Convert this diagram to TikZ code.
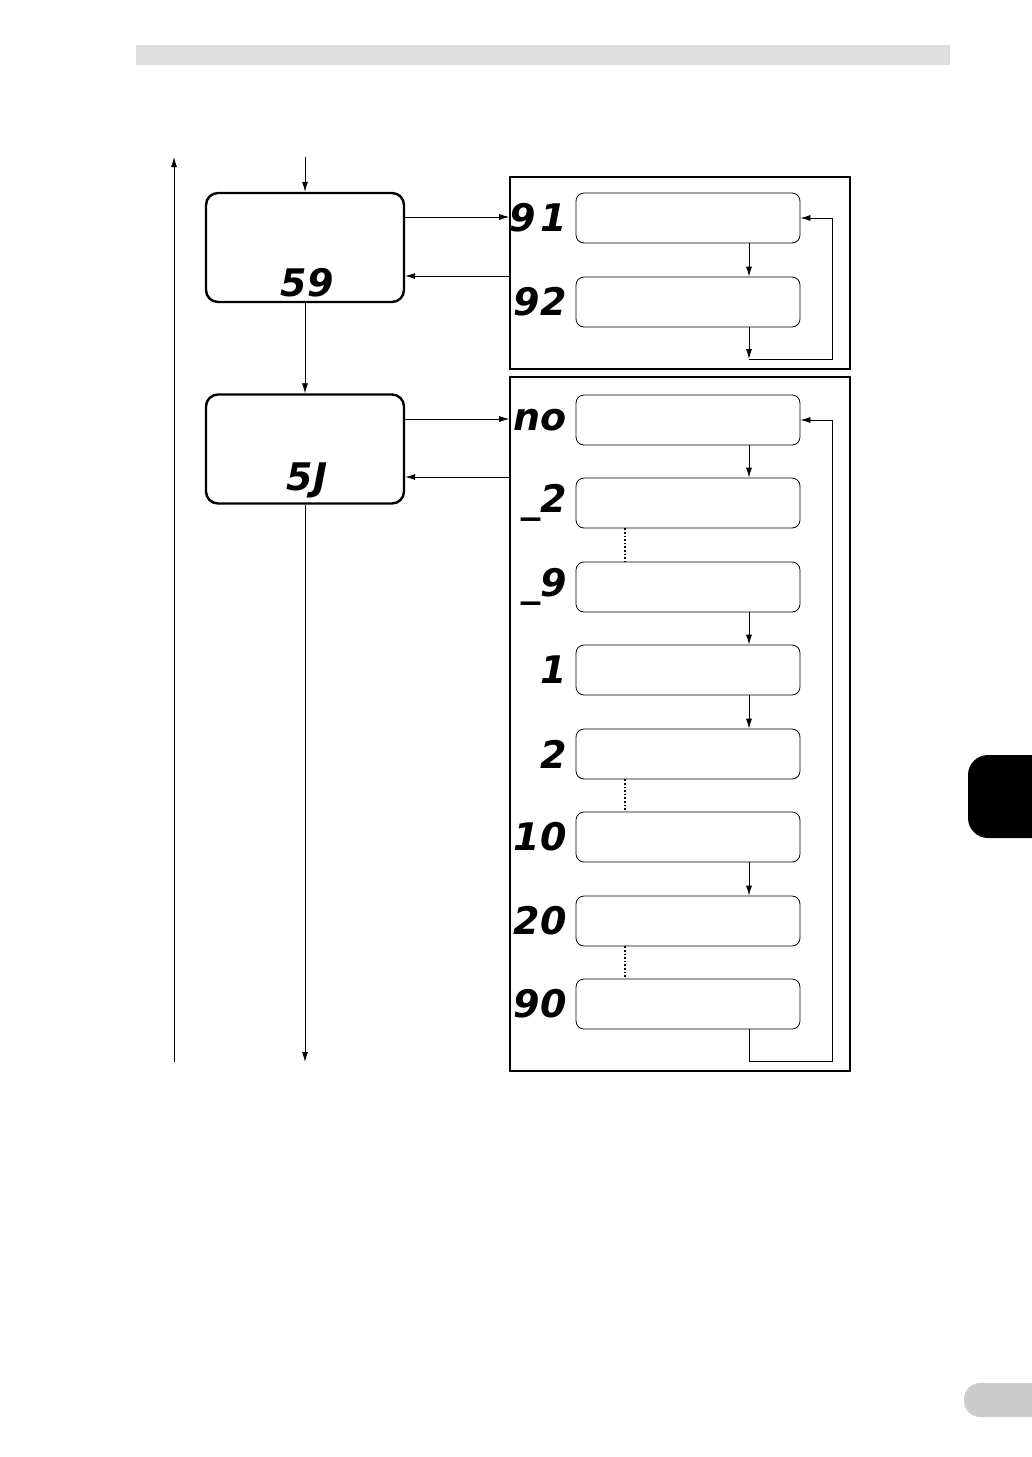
\documentclass[tikz,border=0pt]{standalone}
\usepackage{fontspec}
\newfontfamily\segfont{DejaVu Sans}
\usetikzlibrary{positioning,arrows.meta}
\begin{document}
\begin{tikzpicture}[x=0.5pt,y=-0.5pt,
    every text node part/.style={align=center},
    mainsty/.style={draw, very thick, rounded corners=6pt, minimum width=99pt, minimum height=54.5pt, inner sep=0pt},
    groupsty/.style={draw, thick},
    itemsty/.style={draw, rounded corners=4pt, minimum width=112pt, minimum height=25pt, inner sep=0pt},
    segsty/.style={font=\segfont\bfseries\itshape\fontsize{19}{19}\selectfont, anchor=east, inner sep=0pt},
    asty/.style={-{Latex[length=5pt,width=3pt]}},
    dotsty/.style={densely dotted, thick}]
  \useasboundingbox (0,0) rectangle (1032,1457);
  % page decoration
  \fill[black!13] (136,45) rectangle (950,65);
  \fill[black, rounded corners=10pt] (1060,755) -- (968,755) -- (968,838) -- (1060,838) -- cycle;
  \fill[black!20, rounded corners=8pt] (1060,1383) -- (964,1383) -- (964,1417) -- (1060,1417) -- cycle;
  \fill[white] (1032,700) rectangle (1070,1457);
  % main menu
  \node[mainsty] (sg) at (305,247.5) {};
  \node[segsty, anchor=south] at (307,297) {59};
  \node[mainsty] (sj) at (305,449) {};
  \node[segsty, anchor=south] at (307,498) {5J};
  \coordinate (in) at (305,157);
  \coordinate (out) at (305,1062);
  \coordinate (bl) at (174,1062);
  \coordinate (tl) at (174,157);
  \draw[asty] (in) -- (sg);
  \draw[asty] (sg) -- (sj);
  \draw[asty] (sj) -- (out);
  \draw[asty] (bl) -- (tl);
  % groups
  \node[groupsty, minimum width=170pt, minimum height=96pt, inner sep=0pt] (ga) at (680,273) {};
  \node[groupsty, minimum width=170pt, minimum height=347pt, inner sep=0pt] (gb) at (680,724) {};
  \draw[asty] (sg.east |- 0,217) -- (ga.west |- 0,217);
  \draw[asty] (ga.west |- 0,276) -- (sg.east |- 0,276);
  \draw[asty] (sj.east |- 0,419) -- (gb.west |- 0,419);
  \draw[asty] (gb.west |- 0,477) -- (sj.east |- 0,477);
  % first list
  \foreach \n/\y/\t in {a1/218/9\kern2pt 1, a2/302/92}{
    \node[itemsty] (\n) at (688,\y) {};
    \node[segsty] at (567,\y) {\t};
  }
  \draw[asty] (a1.south -| 749,0) -- (a2.north -| 749,0);
  \coordinate (ae) at (749,359);
  \draw[asty] (a2.south -| 749,0) -- (ae);
  \draw[asty] (ae) -- (832,359) -- (832,218) -- (a1.east);
  % second list
  \foreach \n/\y/\t in {b1/420/no, b2/503/\_2, b3/587/\_9, b4/670/1, b5/754/2, b6/837/10, b7/921/20, b8/1004/90}{
    \node[itemsty] (\n) at (688,\y) {};
    \node[segsty] at (567,\y) {\t};
  }
  \foreach \a/\b in {b1/b2, b3/b4, b4/b5, b6/b7}
    \draw[asty] (\a.south -| 749,0) -- (\b.north -| 749,0);
  \foreach \a/\b in {b2/b3, b5/b6, b7/b8}
    \draw[dotsty] (\a.south -| 625,0) -- (\b.north -| 625,0);
  \draw[asty] (b8.south -| 749,0) -- (749,1061) -- (832,1061) -- (832,420) -- (b1.east);
\end{tikzpicture}
\end{document}
